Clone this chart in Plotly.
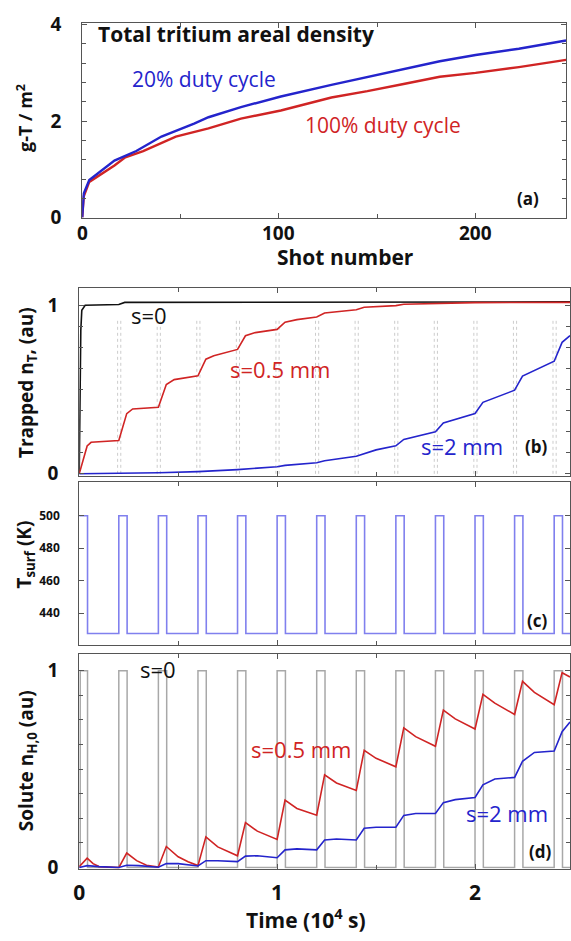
import plotly.graph_objects as go

W, H = 571, 941
FONT = "Open Sans"

# ---------------- Panel (a): total tritium areal density ----------------
shot_20 = [0, 0.3, 0.8, 3.6, 9.1, 16.4, 27.5, 40.3, 56.9, 64.2, 80.7, 101, 126.7, 148.7, 181.8, 200, 222, 246]
dens_20 = [0, 0.35, 0.5, 0.78, 0.945, 1.18, 1.38, 1.68, 1.95, 2.08, 2.29, 2.51, 2.75, 2.95, 3.24, 3.37, 3.5, 3.67]
shot_100 = [0, 0.3, 0.8, 3.6, 9.1, 16.4, 21.9, 31, 47.6, 64.2, 80.7, 101, 126.7, 145, 163.4, 181.8, 200, 222, 246]
dens_100 = [0, 0.3, 0.44, 0.74, 0.88, 1.08, 1.25, 1.38, 1.68, 1.85, 2.05, 2.22, 2.49, 2.62, 2.77, 2.92, 3.0, 3.12, 3.27]
a_xticks = [0, 100, 200]
a_xminor = [50, 150]
a_yticks = [0, 2, 4]
a_yminor = [0.4, 0.8, 1.2, 1.6, 2.4, 2.8, 3.2, 3.6]

# ---------------- Pulses (time in 1e4 s) ----------------
pulse_start = [0.005, 0.2, 0.4, 0.6, 0.8, 1.0, 1.2, 1.4, 1.6, 1.8, 2.0, 2.2, 2.4]
pulse_end = [0.042, 0.242, 0.442, 0.642, 0.842, 1.042, 1.242, 1.442, 1.642, 1.842, 2.042, 2.242, 2.442]
T_high, T_low = 500, 427.5
t_end = 2.48
t_ticks = [0, 1, 2]
t_minor = [0.5, 1.5]

# ---------------- Panel (b): trapped nT ----------------
tb_s0 = [0, 0.004, 0.008, 0.013, 0.03, 0.2, 0.23, 2.48]
nb_s0 = [0, 0.6, 0.85, 0.97, 1.0, 1.005, 1.017, 1.02]
tb_s05 = [0, 0.04, 0.06, 0.2, 0.24, 0.27, 0.4, 0.44, 0.48, 0.6, 0.64, 0.68, 0.8, 0.84, 0.89, 1.0, 1.04,
          1.1, 1.2, 1.24, 1.4, 1.44, 1.6, 1.64, 2.0, 2.48]
nb_s05 = [0, 0.165, 0.187, 0.198, 0.357, 0.385, 0.395, 0.53, 0.559, 0.582, 0.68, 0.70, 0.738, 0.819, 0.838,
          0.857, 0.9, 0.915, 0.93, 0.954, 0.973, 0.988, 0.998, 1.006, 1.016, 1.017]
tb_s2 = [0, 0.2, 0.4, 0.6, 0.8, 1.0, 1.04, 1.2, 1.24, 1.4, 1.44, 1.5, 1.6, 1.64, 1.8, 1.84, 2.0, 2.04,
         2.2, 2.24, 2.4, 2.44, 2.48]
nb_s2 = [0, 0.002, 0.006, 0.013, 0.025, 0.042, 0.05, 0.066, 0.078, 0.104, 0.12, 0.142, 0.166, 0.204, 0.25,
         0.302, 0.358, 0.424, 0.496, 0.58, 0.668, 0.78, 0.82]
b_dotted_t = [0.194, 0.21, 0.394, 0.41, 0.594, 0.61, 0.794, 0.81, 0.994, 1.01, 1.194, 1.21, 1.394, 1.41,
              1.594, 1.61, 1.794, 1.81, 1.994, 2.01, 2.194, 2.21, 2.394, 2.41]
b_dotted_top = 0.925
n_yticks = [0, 1]
n_yminor = [0.125, 0.25, 0.375, 0.5, 0.625, 0.75, 0.875]

# ---------------- Panel (c): surface temperature ----------------
c_yticks = [440, 460, 480, 500]

# ---------------- Panel (d): solute nH,0 ----------------
td_s05 = [0, 0.04, 0.07, 0.1, 0.2, 0.24, 0.29, 0.34, 0.4, 0.44, 0.5, 0.55, 0.6, 0.64, 0.7, 0.8, 0.84, 0.9,
          1.0, 1.04, 1.1, 1.2, 1.24, 1.3, 1.4, 1.44, 1.5, 1.6, 1.64, 1.7, 1.8, 1.84, 1.9, 2.0, 2.04, 2.1,
          2.2, 2.24, 2.3, 2.4, 2.44, 2.48]
nd_s05 = [0.005, 0.048, 0.02, 0.005, 0.0, 0.074, 0.035, 0.012, 0.003, 0.107, 0.055, 0.03, 0.01, 0.156, 0.105,
          0.06, 0.228, 0.185, 0.143, 0.343, 0.3, 0.266, 0.471, 0.43, 0.392, 0.596, 0.555, 0.512, 0.71, 0.665,
          0.616, 0.80, 0.755, 0.704, 0.88, 0.835, 0.778, 0.946, 0.89, 0.827, 0.99, 0.968]
td_s2 = [0, 0.04, 0.1, 0.2, 0.24, 0.3, 0.4, 0.44, 0.5, 0.6, 0.64, 0.7, 0.8, 0.84, 0.9, 1.0, 1.04, 1.1, 1.2,
         1.24, 1.3, 1.4, 1.44, 1.5, 1.6, 1.64, 1.7, 1.8, 1.84, 1.9, 2.0, 2.04, 2.1, 2.2, 2.24, 2.3, 2.4,
         2.44, 2.48]
nd_s2 = [0, 0.01, 0.005, 0.0, 0.012, 0.01, 0.002, 0.02, 0.02, 0.008, 0.035, 0.035, 0.03, 0.058, 0.06, 0.05,
         0.09, 0.095, 0.09, 0.14, 0.145, 0.14, 0.2, 0.205, 0.205, 0.265, 0.275, 0.275, 0.33, 0.345, 0.356,
         0.42, 0.45, 0.458, 0.54, 0.585, 0.592, 0.69, 0.74]
s0_high = 1.0

RED = "#d02424"
BLUE = "#2424cc"
LAV = "#8080ee"
GRAY = "#a8a8a8"
AX = "#555555"


def px(x):
    return x / W


def py(y):
    return 1 - y / H


# step series built from the pulse table
tc, Tc = [0.0], [T_high]
for i, (s, e) in enumerate(zip(pulse_start, pulse_end)):
    if i > 0:
        tc += [s, s]
        Tc += [T_low, T_high]
    tc += [e, e]
    Tc += [T_high, T_low]
tc += [t_end]
Tc += [T_low]

tg, ng = [0.0], [0.0]
for s, e in zip(pulse_start, pulse_end):
    tg += [s, s, e, e]
    ng += [0.0, s0_high, s0_high, 0.0]
tg += [t_end]
ng += [0.0]

dx, dy = [], []
for t in b_dotted_t:
    dx += [t, t, None]
    dy += [0, b_dotted_top, None]

fig = go.Figure()

# (a)
fig.add_trace(go.Scatter(x=shot_100, y=dens_100, mode="lines", line=dict(color=RED, width=2.4),
                         xaxis="x", yaxis="y", showlegend=False))
fig.add_trace(go.Scatter(x=shot_20, y=dens_20, mode="lines", line=dict(color=BLUE, width=2.4),
                         xaxis="x", yaxis="y", showlegend=False))
# (b)
fig.add_trace(go.Scatter(x=dx, y=dy, mode="lines", line=dict(color="#cccccc", width=1, dash="dot"),
                         xaxis="x2", yaxis="y2", showlegend=False))
fig.add_trace(go.Scatter(x=tb_s0, y=nb_s0, mode="lines", line=dict(color="#111111", width=1.6),
                         xaxis="x2", yaxis="y2", showlegend=False))
fig.add_trace(go.Scatter(x=tb_s05, y=nb_s05, mode="lines", line=dict(color=RED, width=1.6),
                         xaxis="x2", yaxis="y2", showlegend=False))
fig.add_trace(go.Scatter(x=tb_s2, y=nb_s2, mode="lines", line=dict(color=BLUE, width=1.6),
                         xaxis="x2", yaxis="y2", showlegend=False))
# (c)
fig.add_trace(go.Scatter(x=tc, y=Tc, mode="lines", line=dict(color=LAV, width=1.6),
                         xaxis="x3", yaxis="y3", showlegend=False))
# (d)
fig.add_trace(go.Scatter(x=tg, y=ng, mode="lines", line=dict(color=GRAY, width=1.5),
                         xaxis="x4", yaxis="y4", showlegend=False))
fig.add_trace(go.Scatter(x=td_s05, y=nd_s05, mode="lines", line=dict(color=RED, width=1.6),
                         xaxis="x4", yaxis="y4", showlegend=False))
fig.add_trace(go.Scatter(x=td_s2, y=nd_s2, mode="lines", line=dict(color=BLUE, width=1.6),
                         xaxis="x4", yaxis="y4", showlegend=False))


def axis(domain, rng, tickvals, minor, size, anchor, show_labels=True, standoff=5):
    d = dict(domain=domain, range=rng, tickmode="array", tickvals=tickvals,
             ticktext=[str(v) for v in tickvals], showticklabels=show_labels,
             ticks="inside", ticklen=5, tickcolor=AX, tickwidth=1,
             showline=True, linecolor=AX, linewidth=1, mirror="ticks",
             showgrid=False, zeroline=False, anchor=anchor, ticklabelstandoff=standoff,
             minor=dict(tickmode="array", tickvals=minor, ticks="inside", ticklen=4,
                        tickcolor=AX, tickwidth=1, showgrid=False),
             tickfont=dict(family=FONT, size=size, color="#111111", weight="bold"))
    return d


xa = [77 / W, 566 / W]
xb = [74 / W, 570 / W]

fig.update_layout(
    width=W, height=H, margin=dict(l=0, r=0, t=0, b=0),
    paper_bgcolor="white", plot_bgcolor="white",
    xaxis=axis(xa, [0, 246], a_xticks, a_xminor, 19, "y", show_labels=False),
    yaxis=axis([py(212), py(12)], [0, 4.04], a_yticks, a_yminor, 19, "x", standoff=16),
    xaxis2=axis(xb, [0, t_end], t_ticks, t_minor, 12, "y2", show_labels=False),
    yaxis2=axis([py(477), py(284)], [-0.012, 1.104], n_yticks, n_yminor, 19, "x2", standoff=16),
    xaxis3=axis(xb, [0, t_end], t_ticks, t_minor, 12, "y3", show_labels=False),
    yaxis3=axis([py(651), py(483)], [420.2, 521], c_yticks, [], 12, "x3", standoff=16),
    xaxis4=axis(xb, [0, t_end], t_ticks, t_minor, 21, "y4", standoff=5),
    yaxis4=axis([py(880), py(660)], [-0.005, 1.084], n_yticks, n_yminor, 19, "x4", standoff=16),
)


def ann(text, x, y, size, color, bold=False, angle=0, xanchor="center"):
    return dict(text=text, x=px(x), y=py(y), xref="paper", yref="paper", showarrow=False,
                xanchor=xanchor, yanchor="middle", textangle=angle,
                font=dict(family=FONT, size=size, color=color, weight="bold" if bold else "normal"))


anns = [
    ann("Total tritium areal density", 91, 24, 21, "#111111", True, xanchor="left"),
    ann("20% duty cycle", 125, 70, 21, BLUE, xanchor="left"),
    ann("100% duty cycle", 300, 117, 21, RED, xanchor="left"),
    ann("(a)", 528, 192, 17, "#111111", True),
    ann("g-T / m<sup>2</sup>", 19, 110, 18, "#111111", True, angle=-90),
    ann("Shot number", 343, 252, 21, "#111111", True),
    ann("Trapped n<sub>T</sub>, (au)", 22, 381, 19, "#111111", True, angle=-90),
    ann("s=0", 145, 312, 22, "#111111"),
    ann("s=0.5 mm", 277, 367, 22, RED),
    ann("s=2 mm", 461, 446, 22, BLUE),
    ann("(b)", 536, 447, 17, "#111111", True),
    ann("T<sub>surf</sub> (K)", 19, 558, 19, "#111111", True, angle=-90),
    ann("(c)", 537, 625, 17, "#111111", True),
    ann("Solute n<sub>H,0</sub> (au)", 22, 769, 19, "#111111", True, angle=-90),
    ann("s=0", 154, 675, 22, "#111111"),
    ann("s=0.5 mm", 298, 757, 22, RED),
    ann("s=2 mm", 506, 823, 22, BLUE),
    ann("(d)", 540, 862, 17, "#111111", True),
    ann("Time (10<sup>4</sup> s)", 303, 931, 21, "#111111", True),
]
# x tick labels of panel (a), placed on the axis scale just below the axis line
for v in a_xticks:
    anns.append(dict(text=str(v), x=v, xref="x", y=py(228), yref="paper", showarrow=False,
                     xanchor="center", yanchor="middle",
                     font=dict(family=FONT, size=19, color="#111111", weight="bold")))
fig.update_layout(annotations=anns)

fig.write_html("out.html")
